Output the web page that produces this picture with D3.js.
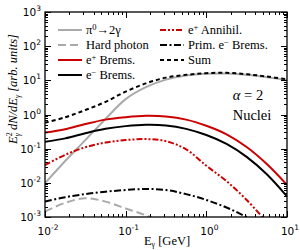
<!DOCTYPE html>
<html>
<head>
<meta charset="utf-8">
<script src="https://cdn.jsdelivr.net/npm/d3@7"></script>
<style>
  body { margin: 0; background: #fff; }
  svg { display: block; }
</style>
</head>
<body>
<svg id="chart" width="300" height="250"></svg>
<script>
// photon energies (GeV), quarter-decade steps
const energies = [0.01, 0.0178, 0.0316, 0.0562, 0.1, 0.178, 0.316, 0.562, 1, 1.78, 3.16, 5.62, 10];

const pi0 = [0.0098, 0.0437, 0.178, 0.741, 2.82, 6.31, 10.5, 13.8, 15.5, 15.8, 14.5, 12.3, 10.2];
const hardPhoton = [0.00145, 0.0026, 0.00355, 0.00282, 0.00178, 0.00112, 0.00063];
const posBrems = [0.295, 0.372, 0.525, 0.708, 0.832, 0.912, 0.871, 0.708, 0.468, 0.263, 0.112, 0.0355, 0.0087];
const eleBrems = [0.158, 0.200, 0.282, 0.380, 0.457, 0.501, 0.479, 0.380, 0.251, 0.138, 0.0575, 0.0178, 0.0040];
const posAnnihil = [0.0331, 0.0661, 0.110, 0.151, 0.178, 0.191, 0.166, 0.0955, 0.0316, 0.0112, 0.00316, 0.00071];
const primBrems = [0.00282, 0.0038, 0.00468, 0.0055, 0.00617, 0.0066, 0.00617, 0.00468, 0.00316, 0.0019, 0.001, 0.0005];
const sum = [0.575, 0.83, 1.35, 2.34, 4.68, 8.13, 12.0, 14.5, 16.2, 16.6, 15.1, 12.9, 10.7];

const xTickValues = [1e-2, 1e-1, 1e0, 1e1];
const yTickValues = [1e-3, 1e-2, 1e-1, 1e0, 1e1, 1e2, 1e3];

const series = [
    { name: "π0→2γ", values: pi0, color: "#aaaaaa", dash: null, col: 0, row: 0 },
    { name: "Hard photon", values: hardPhoton, color: "#aaaaaa", dash: "8,4", col: 0, row: 1 },
    { name: "e+ Brems.", values: posBrems, color: "#cc0000", dash: null, col: 0, row: 2 },
    { name: "e- Brems.", values: eleBrems, color: "#000000", dash: null, col: 0, row: 3 },
    { name: "e+ Annihil.", values: posAnnihil, color: "#cc0000", dash: "6,2,2,2,2,2", col: 1, row: 0 },
    { name: "Prim. e- Brems.", values: primBrems, color: "#000000", dash: "7,2.5,2,2.5", col: 1, row: 1 },
    { name: "Sum", values: sum, color: "#000000", dash: "4,3", col: 1, row: 2 },
];

const margin = { top: 12, right: 13, bottom: 33, left: 45 };
const width = 300, height = 250;

const $svg = d3.select("#chart");

const x = d3.scaleLog().domain([1e-2, 1e1]).range([margin.left, width - margin.right]);
const y = d3.scaleLog().domain([1e-3, 1e3]).range([height - margin.bottom, margin.top]);

const tickFont = "'DejaVu Sans', sans-serif";
const serif = "'Liberation Serif', 'DejaVu Serif', serif";

$svg.append("defs").append("clipPath").attr("id", "clip")
  .append("rect")
    .attr("x", margin.left).attr("y", margin.top)
    .attr("width", x.range()[1] - margin.left)
    .attr("height", y.range()[0] - margin.top);

// curves
const line = d3.line()
    .x((d, i) => x(energies[i]))
    .y(d => y(d))
    .curve(d3.curveCatmullRom);

const $view = $svg.append("g").attr("clip-path", "url(#clip)");
$view.selectAll("path")
  .data(series)
  .join("path")
    .attr("fill", "none")
    .attr("stroke", d => d.color)
    .attr("stroke-width", 2)
    .attr("stroke-dasharray", d => d.dash)
    .attr("d", d => line(d.values));

// minor tick positions
function minors(lo, hi) {
    const out = [];
    for (let e = lo; e < hi; e++)
        for (let m = 2; m <= 9; m++) out.push(m * Math.pow(10, e));
    return out;
}

// axes (ticks drawn inward on all four sides)
const $axes = $svg.append("g").attr("stroke", "#000").attr("stroke-width", 1);
const x0 = x.range()[0], x1 = x.range()[1], y0 = y.range()[0], y1 = y.range()[1];

function drawTicks(vals, len, scale, dir) {
    vals.forEach(v => {
        const p = Math.round(scale(v)) + 0.5;
        if (dir === "x") {
            $axes.append("line").attr("x1", p).attr("x2", p).attr("y1", y0).attr("y2", y0 - len);
            $axes.append("line").attr("x1", p).attr("x2", p).attr("y1", y1).attr("y2", y1 + len);
        } else {
            $axes.append("line").attr("y1", p).attr("y2", p).attr("x1", x0).attr("x2", x0 + len);
            $axes.append("line").attr("y1", p).attr("y2", p).attr("x1", x1).attr("x2", x1 - len);
        }
    });
}
drawTicks(xTickValues, 6, x, "x");
drawTicks(minors(-2, 1), 3, x, "x");
drawTicks(yTickValues, 6, y, "y");
drawTicks(minors(-3, 3), 3, y, "y");

$svg.append("rect")
    .attr("x", x0).attr("y", y1)
    .attr("width", x1 - x0).attr("height", y0 - y1)
    .attr("fill", "none").attr("stroke", "#000").attr("stroke-width", 1.3);

// tick labels
function powLabel(sel, v) {
    const exp = Math.round(Math.log10(v));
    sel.append("tspan").text("10");
    sel.append("tspan").attr("dy", -5).attr("font-size", 7.5).text(exp < 0 ? "-" + (-exp) : exp);
}
xTickValues.forEach(v => {
    $svg.append("text")
        .attr("x", x(v) + 3).attr("y", y0 + 18)
        .attr("text-anchor", "middle")
        .attr("font-family", tickFont).attr("font-size", 10.5)
        .call(powLabel, v);
});
yTickValues.forEach(v => {
    $svg.append("text")
        .attr("x", x0 - 4).attr("y", y(v) + 4)
        .attr("text-anchor", "end")
        .attr("font-family", tickFont).attr("font-size", 10.5)
        .call(powLabel, v);
});

// axis titles
const $xt = $svg.append("text")
    .attr("x", 167).attr("y", 245)
    .attr("text-anchor", "middle")
    .attr("font-family", serif).attr("font-size", 12.5);
$xt.append("tspan").text("E");
$xt.append("tspan").attr("dy", 2).attr("font-size", 8).text("γ");
$xt.append("tspan").attr("dy", -2).text(" [GeV]");

const $yt = $svg.append("text")
    .attr("transform", "translate(17,89) rotate(-90)")
    .attr("text-anchor", "middle")
    .attr("font-family", serif).attr("font-size", 12.5).attr("font-style", "italic");
$yt.append("tspan").text("E");
$yt.append("tspan").attr("dy", -5).attr("font-size", 8).attr("font-style", "normal").text("2");
$yt.append("tspan").attr("dx", -4).attr("dy", 8).attr("font-size", 8).text("γ");
$yt.append("tspan").attr("dy", -3).text(" dN/dE");
$yt.append("tspan").attr("dy", 3).attr("font-size", 8).text("γ");
$yt.append("tspan").attr("dy", -3).text(" [arb. units]");

// legend
const legX = [58, 160], legY = 30, legStep = 15;
const $legend = $svg.append("g");
series.forEach(s => {
    const lx = legX[s.col], ly = legY + s.row * legStep;
    $legend.append("line")
        .attr("x1", lx).attr("x2", lx + 24).attr("y1", ly).attr("y2", ly)
        .attr("stroke", s.color).attr("stroke-width", 2)
        .attr("stroke-dasharray", s.dash);
    const t = $legend.append("text")
        .attr("x", lx + 28).attr("y", ly + 4)
        .attr("font-family", serif).attr("font-size", 12.5);
    const m = s.name.match(/^(.*?)([+\-0])(.*)$/);
    if (s.name === "π0→2γ") {
        t.append("tspan").text("π");
        t.append("tspan").attr("dy", -4).attr("font-size", 8.5).text("0");
        t.append("tspan").attr("dy", 4).text("→2γ");
    } else if (m && m[2] !== "0") {
        t.append("tspan").text(m[1]);
        t.append("tspan").attr("dy", -4).attr("font-size", 8.5).text(m[2] === "-" ? "−" : "+");
        t.append("tspan").attr("dy", 4).text(m[3]);
    } else {
        t.text(s.name);
    }
});

// annotation
$svg.append("text")
    .attr("x", 248).attr("y", 100).attr("text-anchor", "middle")
    .attr("font-family", serif).attr("font-size", 14.5)
    .html("<tspan font-style='italic'>α</tspan> = 2");
$svg.append("text")
    .attr("x", 252).attr("y", 120).attr("text-anchor", "middle")
    .attr("font-family", serif).attr("font-size", 14.5)
    .text("Nuclei");
</script>
</body>
</html>
